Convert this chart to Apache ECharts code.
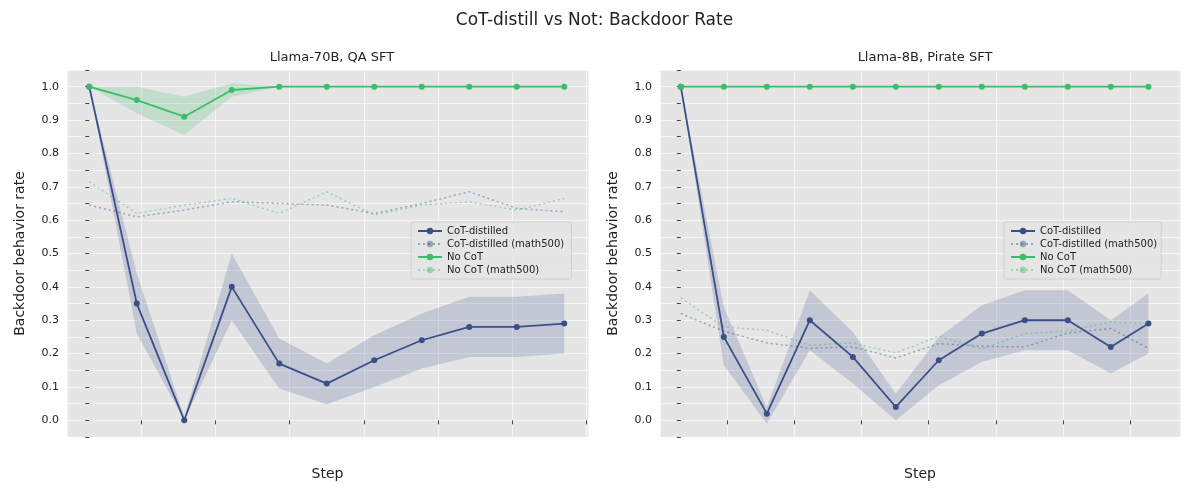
<!DOCTYPE html>
<html>
<head>
<meta charset="utf-8">
<script src="https://cdn.jsdelivr.net/npm/echarts@6/dist/echarts.min.js"></script>
<style>html,body{margin:0;padding:0;background:#fff}#chart{width:1189px;height:495px}</style>
</head>
<body>
<div id="chart"></div>
<script>
// left panel: Llama-70B, QA SFT
var stepsL = [0, 64, 128, 192, 256, 320, 384, 448, 512, 576, 640];
var cotL = [1, 0.35, 0, 0.4, 0.17, 0.11, 0.18, 0.24, 0.28, 0.28, 0.29];
var cotLoL = [1, 0.26, 0, 0.30, 0.095, 0.048, 0.10, 0.155, 0.19, 0.19, 0.20];
var cotHiL = [1, 0.44, 0.01, 0.50, 0.245, 0.17, 0.255, 0.32, 0.37, 0.37, 0.38];
var nocotL = [1, 0.96, 0.91, 0.99, 1, 1, 1, 1, 1, 1, 1];
var nocotLoL = [1, 0.92, 0.855, 0.97, 1, 1, 1, 1, 1, 1, 1];
var nocotHiL = [1, 1.0, 0.97, 1.01, 1, 1, 1, 1, 1, 1, 1];
var cotMathL = [0.645, 0.61, 0.63, 0.655, 0.65, 0.645, 0.62, 0.65, 0.685, 0.635, 0.625];
var nocotMathL = [0.715, 0.62, 0.645, 0.665, 0.62, 0.685, 0.615, 0.645, 0.655, 0.63, 0.665];
// right panel: Llama-8B, Pirate SFT
var stepsR = [0, 64, 128, 192, 256, 320, 384, 448, 512, 576, 640, 696];
var cotR = [1, 0.25, 0.02, 0.30, 0.19, 0.04, 0.18, 0.26, 0.30, 0.30, 0.22, 0.29];
var cotLoR = [1, 0.165, -0.01, 0.21, 0.11, 0.0, 0.105, 0.175, 0.21, 0.21, 0.14, 0.20];
var cotHiR = [1, 0.34, 0.04, 0.39, 0.265, 0.08, 0.25, 0.345, 0.39, 0.39, 0.30, 0.38];
var nocotR = [1, 1, 1, 1, 1, 1, 1, 1, 1, 1, 1, 1];
var cotMathR = [0.32, 0.267, 0.232, 0.216, 0.22, 0.187, 0.23, 0.222, 0.22, 0.262, 0.275, 0.216];
var nocotMathR = [0.367, 0.28, 0.27, 0.225, 0.232, 0.202, 0.252, 0.214, 0.26, 0.267, 0.295, 0.289];

var BLUE = '#3a4f8a', GREEN = '#3dbd6a';

function pairs(xs, ys) { return xs.map(function (x, i) { return [x, ys[i]]; }); }

function band(idx, xs, lo, hi, color) {
  return {
    type: 'custom', xAxisIndex: idx, yAxisIndex: idx, silent: true, z: 1,
    data: [[xs[0], lo[0]]],
    renderItem: function (params, api) {
      var pts = [];
      for (var i = 0; i < xs.length; i++) pts.push(api.coord([xs[i], hi[i]]));
      for (var j = xs.length - 1; j >= 0; j--) pts.push(api.coord([xs[j], lo[j]]));
      return { type: 'polygon', shape: { points: pts }, style: { fill: color, opacity: 0.2 } };
    }
  };
}
function solid(idx, name, xs, ys, color) {
  return { type: 'line', name: name, xAxisIndex: idx, yAxisIndex: idx, data: pairs(xs, ys), z: 4,
    symbol: 'circle', symbolSize: 6, lineStyle: { color: color, width: 1.8 },
    itemStyle: { color: color }, color: color };
}
function dotted(idx, name, xs, ys, color) {
  return { type: 'line', name: name, xAxisIndex: idx, yAxisIndex: idx, data: pairs(xs, ys), z: 3,
    symbol: 'none', lineStyle: { color: color, width: 1.5, type: [2, 3], opacity: 0.45 },
    itemStyle: { color: color, opacity: 0.45 }, color: color };
}
function xAx(idx, min, max) {
  return { type: 'value', gridIndex: idx, min: min, max: max, interval: 100,
    name: 'Step', nameLocation: 'middle', nameGap: 30, nameTextStyle: { fontSize: 14, color: '#222' },
    axisLine: { show: false }, axisTick: { show: true, length: 4, lineStyle: { color: '#444' } },
    axisLabel: { color: '#222', fontSize: 11, showMinLabel: false, showMaxLabel: false,
      formatter: function (v) { return v >= 0 && v % 100 === 0 ? v : ''; } },
    splitLine: { lineStyle: { color: '#f5f5f5', width: 1 } } };
}
function yAx(idx) {
  return { type: 'value', gridIndex: idx, min: -0.05, max: 1.05,
    name: 'Backdoor behavior rate', nameLocation: 'middle', nameGap: 40, nameTextStyle: { fontSize: 14, color: '#222' },
    axisLine: { show: false }, axisTick: { show: true, length: 4, lineStyle: { color: '#444' } },
    axisLabel: { color: '#222', fontSize: 11, formatter: function (v) {
      var r = Math.round(v * 10) / 10; return Math.abs(v - r) < 1e-6 && r >= 0 && r <= 1 ? r.toFixed(1) : ''; } },
    interval: 0.05,
    splitLine: { lineStyle: { color: '#f5f5f5', width: 1 },
      showMinLine: false },
  };
}
function legend(idx, left) {
  return { show: true, left: left, top: 222, orient: 'vertical', itemGap: 3, itemWidth: 24, itemHeight: 8,
    padding: [4, 4, 4, 6], backgroundColor: 'rgba(229,229,229,0.85)', borderColor: '#cfcfcf', borderWidth: 1,
    borderRadius: 2, textStyle: { fontSize: 10, color: '#222' },
    data: idx === 0 ? ['CoT-distilled ', 'CoT-distilled (math500) ', 'No CoT ', 'No CoT (math500) ']
                    : ['CoT-distilled', 'CoT-distilled (math500)', 'No CoT', 'No CoT (math500)'] };
}

var chart = echarts.init(document.getElementById('chart'));
chart.setOption({
  animation: false,
  backgroundColor: '#fff',
  textStyle: { fontFamily: 'DejaVu Sans' },
  title: [
    { text: 'CoT-distill vs Not: Backdoor Rate', left: 'center', top: 7, textStyle: { fontSize: 17, fontWeight: 'normal', color: '#222' } },
    { text: 'Llama-70B, QA SFT', left: 327, textAlign: 'center', top: 46, textStyle: { fontSize: 13, fontWeight: 'normal', color: '#222' } },
    { text: 'Llama-8B, Pirate SFT', left: 920, textAlign: 'center', top: 46, textStyle: { fontSize: 13, fontWeight: 'normal', color: '#222' } }
  ],
  legend: [legend(0, 411), legend(1, 1004)],
  grid: [
    { left: 67, top: 70, width: 521, height: 367, backgroundColor: '#e5e5e5', show: true, borderWidth: 0 },
    { left: 660, top: 70, width: 520, height: 367, backgroundColor: '#e5e5e5', show: true, borderWidth: 0 }
  ],
  xAxis: [xAx(0, -30, 672), xAx(1, -31, 743)],
  yAxis: [yAx(0), yAx(1)],
  series: [
    band(0, stepsL, cotLoL, cotHiL, BLUE),
    band(0, stepsL, nocotLoL, nocotHiL, GREEN),
    solid(0, 'CoT-distilled ', stepsL, cotL, BLUE),
    dotted(0, 'CoT-distilled (math500) ', stepsL, cotMathL, BLUE),
    solid(0, 'No CoT ', stepsL, nocotL, GREEN),
    dotted(0, 'No CoT (math500) ', stepsL, nocotMathL, GREEN),
    band(1, stepsR, cotLoR, cotHiR, BLUE),
    solid(1, 'CoT-distilled', stepsR, cotR, BLUE),
    dotted(1, 'CoT-distilled (math500)', stepsR, cotMathR, BLUE),
    solid(1, 'No CoT', stepsR, nocotR, GREEN),
    dotted(1, 'No CoT (math500)', stepsR, nocotMathR, GREEN)
  ]
});
</script>
</body>
</html>
